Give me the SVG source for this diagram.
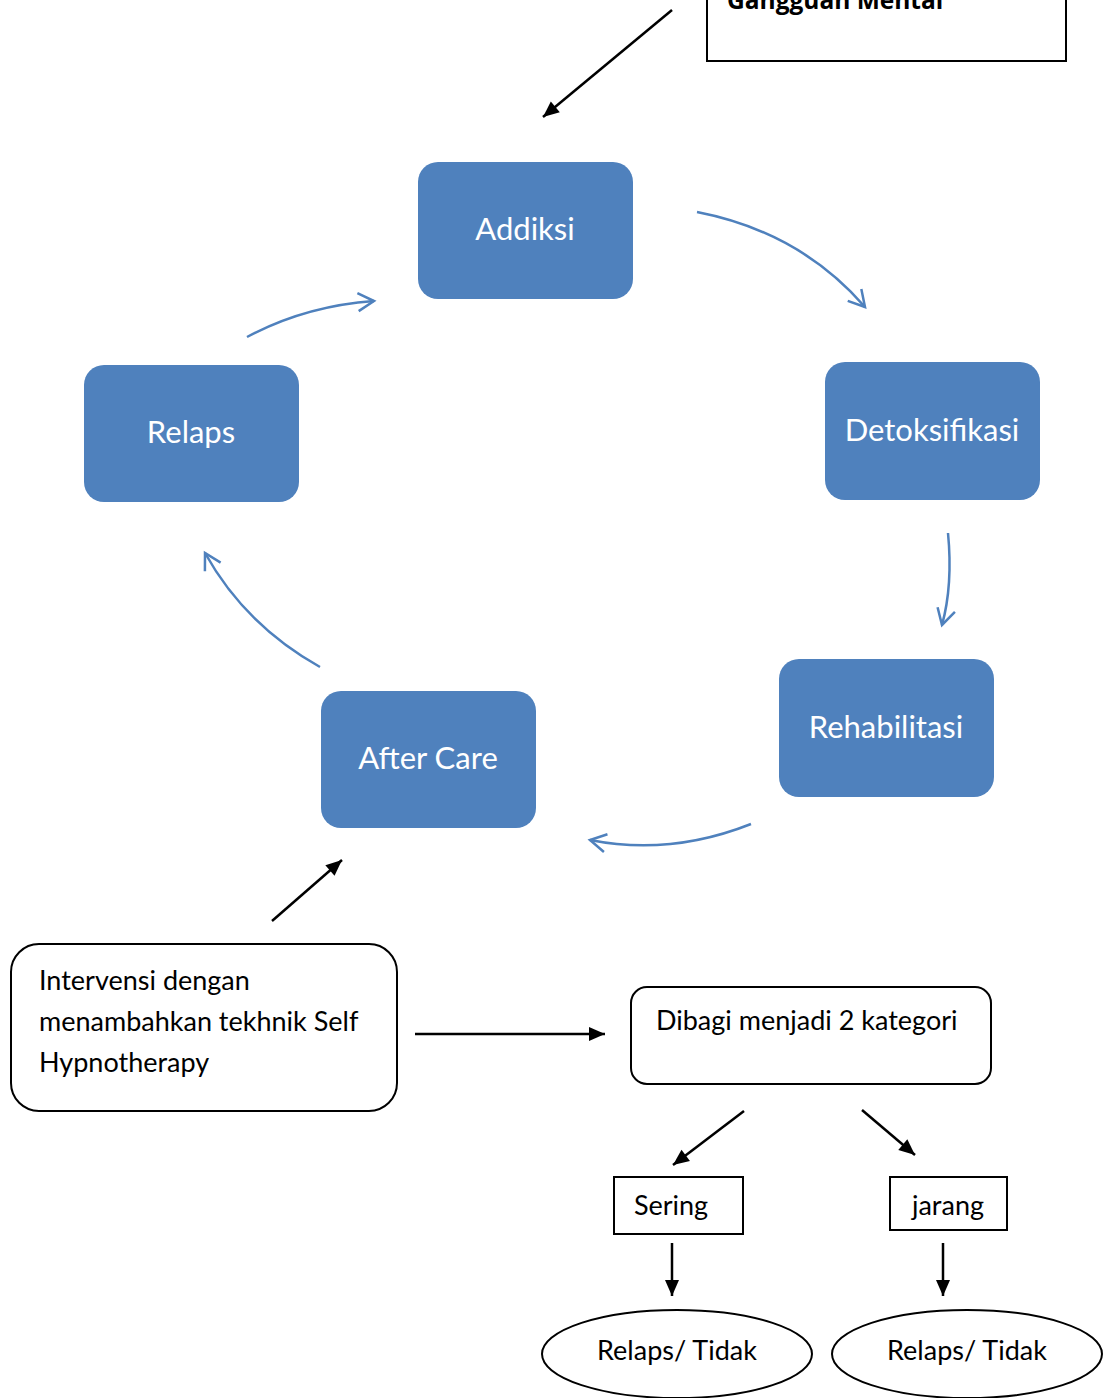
<svg xmlns="http://www.w3.org/2000/svg" width="1112" height="1398" viewBox="0 0 1112 1398">
<defs>
<marker id="blueHead" markerWidth="24" markerHeight="24" refX="20" refY="12" orient="auto" markerUnits="userSpaceOnUse">
<path d="M4,3 L20,12 L4,21" fill="none" stroke="#4F81BD" stroke-width="2.5"/>
</marker>
<marker id="blackHead" markerWidth="20" markerHeight="20" refX="18" refY="10" orient="auto" markerUnits="userSpaceOnUse">
<path d="M2,3 L18,10 L2,17 Z" fill="#000"/>
</marker>
</defs>
<style>
.node rect.blue{fill:#4F81BD;}
.wt{fill:#fff;font-family:Lato,"Liberation Sans",sans-serif;font-size:31px;text-anchor:middle;}
.bt{fill:#000;font-family:Lato,"Liberation Sans",sans-serif;font-size:27px;}
.box{fill:#fff;stroke:#000;stroke-width:2;}
.blue-c{fill:none;stroke:#4F81BD;stroke-width:2.5;marker-end:url(#blueHead);}
.black-c{fill:none;stroke:#000;stroke-width:2.5;marker-end:url(#blackHead);}
</style>
<rect width="1112" height="1398" fill="#fff"/>
<g id="gangguan" class="node">
<rect class="box" x="707" y="-40" width="359" height="101"/>
<text x="727" y="9" style="font-family:'Open Sans','Liberation Sans',sans-serif;font-weight:bold;font-size:24.5px;fill:#000">Gangguan Mental</text>
</g>
<g id="addiksi" class="node">
<rect class="blue" x="418" y="162" width="215" height="137" rx="20"/>
<text class="wt" x="525" y="240">Addiksi</text>
</g>
<g id="detoksifikasi" class="node">
<rect class="blue" x="825" y="362" width="215" height="138" rx="20"/>
<text class="wt" x="932" y="441">Detoksifikasi</text>
</g>
<g id="rehabilitasi" class="node">
<rect class="blue" x="779" y="659" width="215" height="138" rx="20"/>
<text class="wt" x="886" y="738">Rehabilitasi</text>
</g>
<g id="aftercare" class="node">
<rect class="blue" x="321" y="691" width="215" height="137" rx="20"/>
<text class="wt" x="428" y="769">After Care</text>
</g>
<g id="relaps" class="node">
<rect class="blue" x="84" y="365" width="215" height="137" rx="20"/>
<text class="wt" x="191" y="443">Relaps</text>
</g>
<g id="intervensi" class="node">
<rect class="box" x="11" y="944" width="386" height="167" rx="28"/>
<text class="bt" x="39" y="990">Intervensi dengan</text>
<text class="bt" x="39" y="1031">menambahkan tekhnik Self</text>
<text class="bt" x="39" y="1072">Hypnotherapy</text>
</g>
<g id="dibagi" class="node">
<rect class="box" x="631" y="987" width="360" height="97" rx="16"/>
<text class="bt" x="656" y="1030">Dibagi menjadi 2 kategori</text>
</g>
<g id="sering" class="node">
<rect class="box" x="614" y="1177" width="129" height="57"/>
<text class="bt" x="671" y="1215" text-anchor="middle">Sering</text>
</g>
<g id="jarang" class="node">
<rect class="box" x="890" y="1177" width="117" height="53"/>
<text class="bt" x="948" y="1215" text-anchor="middle">jarang</text>
</g>
<g id="relaps1" class="node">
<ellipse class="box" cx="677" cy="1354" rx="135" ry="44"/>
<text class="bt" x="677" y="1360" text-anchor="middle">Relaps/ Tidak</text>
</g>
<g id="relaps2" class="node">
<ellipse class="box" cx="967" cy="1354" rx="135" ry="44"/>
<text class="bt" x="967" y="1360" text-anchor="middle">Relaps/ Tidak</text>
</g>
<g id="connectors">
<path class="blue-c" d="M697,212 Q800,232 865,307"/>
<path class="blue-c" d="M948,533 Q953,585 942,625"/>
<path class="blue-c" d="M751,824 Q670,856 590,840"/>
<path class="blue-c" d="M320,667 Q245,625 205,553"/>
<path class="blue-c" d="M247,337 Q305,306 374,301"/>
<path class="black-c" d="M672,10 L543,117"/>
<path class="black-c" d="M272,921 L342,860"/>
<path class="black-c" d="M415,1034 L605,1034"/>
<path class="black-c" d="M744,1111 L673,1165"/>
<path class="black-c" d="M862,1110 L915,1155"/>
<path class="black-c" d="M672,1243 L672,1296"/>
<path class="black-c" d="M943,1243 L943,1296"/>
</g>
</svg>
